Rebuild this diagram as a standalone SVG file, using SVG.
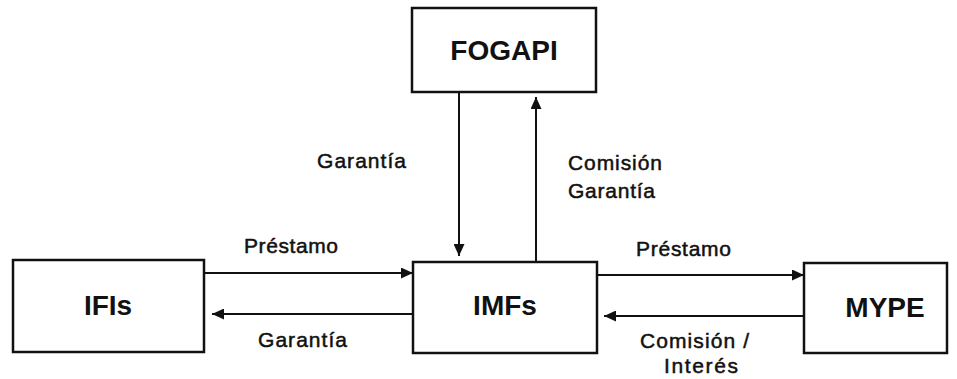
<svg xmlns="http://www.w3.org/2000/svg" width="957" height="379" viewBox="0 0 957 379">
<style>
.box{fill:#fff;stroke:#111;stroke-width:2.5}
.node{font-family:"Liberation Sans",Arial,sans-serif;font-weight:bold;font-size:28px;fill:#111;text-anchor:middle}
.lbl{font-family:"Liberation Sans",Arial,sans-serif;font-size:21px;fill:#111;stroke:#111;stroke-width:0.5}
.edge{stroke:#111;stroke-width:2;fill:none;marker-end:url(#ah)}
</style>
<defs>
<marker id="ah" markerUnits="userSpaceOnUse" markerWidth="13" markerHeight="11" refX="12" refY="5.5" orient="auto">
<path d="M0,0 L12,5.5 L0,11 z" fill="#111"/>
</marker>
</defs>
<rect width="957" height="379" fill="#fff"/>
<g id="FOGAPI">
<rect class="box" x="412" y="8" width="184" height="84"/>
<text class="node" x="504" y="60">FOGAPI</text>
</g>
<g id="IFIs">
<rect class="box" x="13" y="260" width="191" height="92"/>
<text class="node" x="108" y="315">IFIs</text>
</g>
<g id="IMFs">
<rect class="box" x="413" y="262" width="184" height="91"/>
<text class="node" x="505" y="315">IMFs</text>
</g>
<g id="MYPE">
<rect class="box" x="804" y="263" width="143" height="90"/>
<text class="node" x="885" y="317">MYPE</text>
</g>
<g id="connectors">
<line class="edge" x1="459" y1="93" x2="459" y2="256"/>
<line class="edge" x1="536" y1="262" x2="536" y2="97"/>
<line class="edge" x1="204" y1="273" x2="413" y2="273"/>
<line class="edge" x1="413" y1="314" x2="212" y2="314"/>
<line class="edge" x1="597" y1="275" x2="804" y2="275"/>
<line class="edge" x1="804" y1="316" x2="604" y2="316"/>
</g>
<g id="labels">
<text class="lbl" x="317" y="168" textLength="89" lengthAdjust="spacing">Garantía</text>
<text class="lbl" x="568" y="170" textLength="94" lengthAdjust="spacing">Comisión</text>
<text class="lbl" x="568" y="198" textLength="87" lengthAdjust="spacing">Garantía</text>
<text class="lbl" x="244" y="253" textLength="94" lengthAdjust="spacing">Préstamo</text>
<text class="lbl" x="258" y="347" textLength="89" lengthAdjust="spacing">Garantía</text>
<text class="lbl" x="636" y="256" textLength="95" lengthAdjust="spacing">Préstamo</text>
<text class="lbl" x="640" y="348" textLength="109" lengthAdjust="spacing">Comisión /</text>
<text class="lbl" x="664" y="373" textLength="74" lengthAdjust="spacing">Interés</text>
</g>
</svg>
